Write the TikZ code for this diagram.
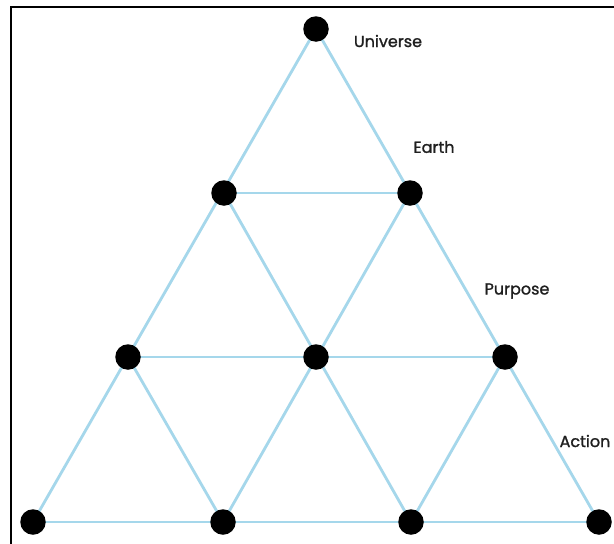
\documentclass[tikz,border=0pt]{standalone}
\usepackage{fontspec}
\setmainfont{Poppins}
\newfontfamily\lblfont{Poppins}[RawFeature={embolden=1.2}]
\definecolor{edgeblue}{RGB}{165,215,235}
\begin{document}
\begin{tikzpicture}[x=1pt,y=-1pt,
  dot/.style={circle,fill=black,inner sep=0pt,minimum size=25.5pt},
  edge/.style={draw=edgeblue,line width=2.8pt},
  lbl/.style={font=\lblfont\fontsize{16}{18}\selectfont,text=black!88,inner sep=0pt}]
\useasboundingbox (0,0) rectangle (614,544);
\fill[white] (0,0) rectangle (614,544);
\draw[line width=2.2pt,line cap=rect] (11,544) -- (11,7) -- (614,7);
% nodes
\coordinate (a) at (316,29);
\coordinate (b1) at (224,193);
\coordinate (b2) at (410,193);
\coordinate (c1) at (128,357);
\coordinate (c2) at (316,357);
\coordinate (c3) at (505,357);
\coordinate (d1) at (33,522);
\coordinate (d2) at (223,522);
\coordinate (d3) at (411,522);
\coordinate (d4) at (599,522);
% edges
\draw[edge] (a) -- (d1);
\draw[edge] (a) -- (d4);
\draw[edge] (d1) -- (d4);
\draw[edge] (b1) -- (b2);
\draw[edge] (c1) -- (c3);
\draw[edge] (b1) -- (d3);
\draw[edge] (b2) -- (d2);
\draw[edge] (c1) -- (d2);
\draw[edge] (c3) -- (d3);
% dots
\foreach \n in {a,b1,b2,c1,c2,c3,d1,d2,d3,d4}
  \node[dot] (n\n) at (\n) {};
% labels
\node[lbl] (lu) at (388,41) {Universe};
\node[lbl] (le) at (434,147) {Earth};
\node[lbl] (lp) at (517,291) {Purpose};
\node[lbl] (la) at (585,441) {Action};
\end{tikzpicture}
\end{document}
